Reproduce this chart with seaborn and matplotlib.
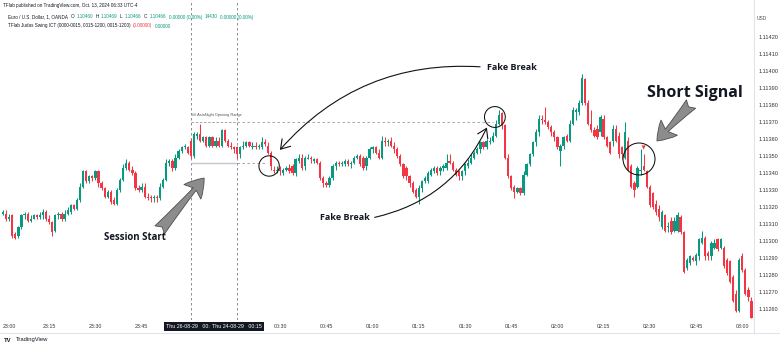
import numpy as np
import pandas as pd
import matplotlib
matplotlib.use("Agg")
import matplotlib.pyplot as plt
import matplotlib.transforms as mtransforms
import seaborn as sns
from matplotlib.patches import FancyArrowPatch
from matplotlib.lines import Line2D

# ---------------- data (prices in pipettes above 1.11000) ----------------
opens = [316,316,313,315,304,303,308,315,316,312,
         313,315,314,315,317,313,311,306,315,316,
         313,316,317,321,319,324,332,341,335,338,
         337,341,334,331,326,329,324,322,330,336,
         343,346,342,340,331,330,332,326,326,325,
         326,325,332,336,346,347,343,349,353,355,
         355,359,350,362,363,359,361,356,361,356,
         359,356,365,359,356,355,355,351,355,356,
         358,355,356,355,355,358,356,352,342,341,
         343,340,342,343,344,340,347,349,344,348,
         349,347,348,346,337,334,333,337,344,346,
         345,345,347,345,346,349,350,349,344,349,
         354,355,352,349,359,358,359,356,354,350,
         345,343,338,334,330,326,331,335,335,339,
         341,343,341,343,343,347,346,342,341,338,
         341,344,346,349,352,354,358,355,358,359,
         362,369,375,368,349,338,332,329,331,328,
         339,345,351,358,364,372,371,370,367,364,
         361,353,356,362,359,369,376,376,381,395,
         381,369,365,366,364,372,361,358,359,366,
         362,355,349,359,344,334,332,341,344,341,
         332,328,322,319,308,315,308,312,306,306,
         314,305,284,287,290,288,291,299,302,293,
         291,296,301,296,296,289,288,279,269,259,
         291,283,271,265]
closes = [317,313,314,303,302,308,315,316,312,313,
          315,314,315,317,313,311,305,315,316,313,
          316,318,321,319,324,332,341,335,338,337,
          341,334,331,326,329,323,322,330,336,343,
          346,342,340,331,330,332,326,325,325,326,
          325,332,336,346,347,343,349,353,355,356,
          352,350,363,363,359,361,356,361,356,359,
          356,365,359,356,355,354,351,355,356,358,
          356,356,355,356,358,357,352,344,341,342,
          341,342,343,341,340,348,349,343,349,349,
          348,348,346,337,334,333,337,344,346,345,
          346,347,345,346,349,350,345,343,349,354,
          355,352,349,359,358,359,356,354,350,345,
          338,338,334,329,326,331,335,337,340,342,
          343,340,343,344,346,346,342,339,338,341,
          345,346,349,352,354,358,355,359,359,362,
          369,374,368,349,338,331,329,331,328,339,
          345,351,358,364,372,371,370,367,364,361,
          355,356,361,359,369,377,377,381,396,381,
          369,365,362,361,373,361,356,352,366,359,
          351,351,364,342,332,330,343,342,342,332,
          321,320,317,314,317,306,309,305,312,315,
          305,282,289,291,289,292,301,302,291,291,
          299,299,295,301,285,281,276,265,259,289,
          283,269,267,255]
highs = [318,318,316,316,305,309,316,317,317,315,
         316,316,317,319,318,315,312,316,317,317,
         318,320,322,322,325,334,342,342,339,339,
         342,342,335,332,330,330,326,331,337,345,
         348,347,344,341,333,334,334,328,327,327,
         327,334,337,348,348,348,351,354,356,357,
         356,360,364,364,369,362,362,362,362,361,
         361,366,366,360,358,356,356,356,359,359,
         359,358,358,357,361,360,358,353,344,344,
         344,343,344,345,345,349,351,351,350,351,
         350,349,349,347,338,335,338,345,347,347,
         347,348,348,347,350,351,351,350,350,355,
         356,356,354,362,361,360,361,358,355,351,
         346,344,339,335,331,333,336,338,341,343,
         344,344,344,345,351,351,347,343,342,342,
         346,348,351,353,355,359,359,360,361,364,
         371,377,376,369,351,339,333,332,332,341,
         346,352,359,366,374,374,379,371,368,365,
         362,357,362,363,371,379,378,383,398,396,
         383,377,367,368,374,374,362,359,368,368,
         364,356,370,361,345,335,344,354,351,342,
         333,329,324,321,318,316,311,314,314,317,
         315,306,290,292,291,293,302,306,303,294,
         300,301,302,302,297,290,289,280,271,290,
         293,284,273,267]
lows = [315,312,312,302,301,302,307,313,311,311,
        313,313,313,313,312,310,303,305,313,312,
        312,315,316,318,318,323,331,334,334,335,
        336,332,330,325,325,322,321,321,329,335,
        342,341,339,330,329,329,325,324,323,323,
        323,324,331,335,344,341,342,348,352,354,
        351,349,349,360,358,358,355,355,355,355,
        355,355,358,355,354,352,349,349,354,355,
        355,354,354,354,354,356,351,342,340,340,
        339,339,341,340,339,338,346,342,342,348,
        346,346,345,336,332,332,332,336,342,344,
        344,344,344,343,345,348,344,342,342,348,
        352,351,348,348,356,356,355,352,349,344,
        337,336,332,328,325,322,329,334,334,338,
        340,339,339,341,342,345,341,338,336,336,
        339,343,345,348,351,352,354,354,357,358,
        361,368,366,348,337,330,325,328,327,327,
        338,344,350,356,362,369,369,366,362,359,
        354,344,354,358,358,368,371,374,380,380,
        368,364,361,360,362,360,355,351,356,358,
        349,348,348,341,331,326,331,339,341,331,
        320,319,315,312,307,305,305,304,305,305,
        304,281,283,286,288,286,289,298,289,289,
        289,295,294,295,284,280,275,264,258,258,
        282,268,265,255]

time_labels = ["23:00", "23:15", "23:30", "23:45", "00:00", "00:15", "00:30",
               "00:45", "01:00", "01:15", "01:30", "01:45", "02:00", "02:15",
               "02:30", "02:45", "03:00"]
price_ticks = [1.11260, 1.11270, 1.11280, 1.11290, 1.11300, 1.11310, 1.11320,
               1.11330, 1.11340, 1.11350, 1.11360, 1.11370, 1.11380, 1.11390,
               1.11400, 1.11410, 1.11420]
session_start, session_end = 61, 76
or_high, or_low = 1.11370, 1.11346
signal_idx, signal_price = 208, 1.11355

BASE = 1.11
df = pd.DataFrame({
    "open": BASE + np.array(opens) * 1e-5,
    "high": BASE + np.array(highs) * 1e-5,
    "low": BASE + np.array(lows) * 1e-5,
    "close": BASE + np.array(closes) * 1e-5,
})
df["idx"] = np.arange(len(df))

GREEN, RED = "#089981", "#F23645"

# ---------------- figure ----------------
sns.set_theme(style="white")
plt.rcParams["font.family"] = ["Liberation Sans", "DejaVu Sans"]

fig = plt.figure(figsize=(7.8, 3.46), dpi=100)
ax = fig.add_axes([0, 26 / 346, 754 / 780, 320 / 346])
ax.set_facecolor("white")
for s in ax.spines.values():
    s.set_visible(False)

up = df["close"] >= df["open"]
cols = np.where(up, GREEN, RED)
ax.vlines(df["idx"], df["low"], df["high"], colors=cols, lw=0.75, zorder=3)
body = (df["close"] - df["open"]).abs().clip(lower=3e-6)
ax.bar(df["idx"], body, bottom=np.minimum(df["open"], df["close"]),
       width=0.74, color=cols, linewidth=0, zorder=4)

ax.set_xlim(-0.974, 243.83)
ax.set_ylim(1.1125353, 1.1144176)

# price axis on the right
ax.yaxis.tick_right()
ax.set_yticks(price_ticks)
ax.set_yticklabels([f"{p:.5f}" for p in price_ticks])
ax.tick_params(axis="y", labelsize=4, length=0, pad=3, colors="#333333")

# time axis
tick_pos = [15 * k for k in range(len(time_labels))]
keep = [k for k, p in enumerate(tick_pos) if p not in (60, 75)]
ax.set_xticks([tick_pos[k] for k in keep])
ax.set_xticklabels([time_labels[k] for k in keep])
ax.tick_params(axis="x", labelsize=3.8, length=0, pad=3, colors="#333333")
first_lbl = ax.get_xticklabels()[0]
first_lbl.set_horizontalalignment("left")
ax.grid(False)

# session lines
for s in (session_start, session_end):
    ax.axvline(s, color="#787b86", lw=0.6, ls=(0, (3, 3)), zorder=2)

# dark date boxes on the time axis
btrans = mtransforms.blended_transform_factory(ax.transData, ax.transAxes)
ax.text(session_start, -0.012, "Thu 26-08-29   00:00", transform=btrans,
        ha="center", va="top", fontsize=3.8, color="white", zorder=10,
        bbox=dict(facecolor="#131722", edgecolor="none", pad=1.6), clip_on=False)
ax.text(session_end, -0.012, "Thu 24-08-29   00:15", transform=btrans,
        ha="center", va="top", fontsize=3.8, color="white", zorder=11,
        bbox=dict(facecolor="#131722", edgecolor="none", pad=1.6), clip_on=False)

# opening range
ax.hlines(or_high, session_start, session_end, color="#9598a1", lw=0.6, ls=(0, (3, 2)), zorder=2)
ax.hlines(or_high, session_end, 159, color="#9598a1", lw=0.6, ls=(0, (3, 3)), zorder=2)
ax.hlines(or_low, session_start, session_end, color="#c3c6ce", lw=1.0, zorder=2)
ax.hlines(or_low, session_end, 85, color="#9598a1", lw=0.6, ls=(0, (3, 3)), zorder=2)
ax.annotate("## AsiaNight Opening Range", (session_start + 0.3, or_high),
            xytext=(0, 3.5), textcoords="offset points", fontsize=2.8,
            color="#555555", ha="left", va="bottom")

# signal marker
sns.scatterplot(x=[signal_idx], y=[signal_price], marker="v", s=9, color=RED,
                edgecolor="none", ax=ax, zorder=6, legend=False)

# circles
circ = pd.DataFrame({"x": [86.4, 159.7, 206.5],
                     "y": [1.1134412, 1.1137294, 1.1134824],
                     "s": [215, 225, 530]})
ax.scatter(circ["x"], circ["y"], s=circ["s"], facecolors="none",
           edgecolors="#111111", linewidths=0.75, zorder=7)

# thin curved arrows
a1 = FancyArrowPatch((155.8, 1.1140235), (89.3, 1.1135235),
                     connectionstyle="arc3,rad=0.25",
                     arrowstyle="->,head_length=0.7,head_width=0.45",
                     mutation_scale=9, lw=0.8, color="#111111", zorder=8)
ax.add_patch(a1)
a2 = FancyArrowPatch((119.8, 1.1131353), (157.5, 1.1136824),
                     connectionstyle="arc3,rad=0.25",
                     arrowstyle="->,head_length=0.7,head_width=0.45",
                     mutation_scale=9, lw=0.8, color="#111111", zorder=8)
ax.add_patch(a2)

FONT_ANN = ["Open Sans", "DejaVu Sans"]
ax.text(157.1, 1.114018, "Fake Break", fontsize=6.5, fontweight="bold",
        ha="left", va="center", color="#131722", family=FONT_ANN)
ax.text(119.2, 1.1131353, "Fake Break", fontsize=6.5, fontweight="bold",
        ha="right", va="center", color="#131722", family=FONT_ANN)
ax.text(42.9, 1.1130235, "Session Start", fontsize=6.9, fontweight="bold",
        ha="center", va="center", color="#131722", family=FONT_ANN)
ax.text(224.7, 1.1138706, "Short Signal", fontsize=11.5, fontweight="bold",
        ha="center", va="center", color="#131722", family=FONT_ANN)

# fat gray arrows
for tail, head in [((50.3, 1.1130529), (65.9, 1.1133824)),
                   ((224.0, 1.1138176), (211.7, 1.1135765))]:
    fa = FancyArrowPatch(tail, head, connectionstyle="arc3,rad=0.0",
                         arrowstyle="fancy,head_length=13,head_width=16,tail_width=9",
                         mutation_scale=1, facecolor="#8c8c8c",
                         edgecolor="#4d4d4d", lw=0.6, zorder=9)
    ax.add_patch(fa)

# ---------------- header / frame ----------------
renderer = fig.canvas.get_renderer()


def seg_text(x_px, y_px, parts, size, weight="normal"):
    x = x_px
    for s, c in parts:
        t = fig.text(x / 780, 1 - y_px / 346, s, color=c, fontsize=size,
                     ha="left", va="center", fontweight=weight)
        bb = t.get_window_extent(renderer=renderer)
        x += bb.width + 2.4


seg_text(3, 5, [("TFlab published on TradingView.com, Oct. 13, 2024 06:33 UTC-4", "#131722")], 3.3)
TEAL = "#089981"
seg_text(8, 17, [("Euro / U.S. Dollar, 1, OANDA", "#131722"),
                 ("O", "#131722"), ("1.10460", TEAL), ("H", "#131722"), ("1.10469", TEAL),
                 ("L", "#131722"), ("1.10466", TEAL), ("C", "#131722"), ("1.10466", TEAL),
                 ("0.00000 (0.00%)", TEAL), ("14430", TEAL), ("0.00000 (0.00%)", TEAL)], 3.3)
seg_text(8, 26, [("TFlab Judas Swing ICT (0000-0015, 0015-1200, 0015-1200)", "#131722"),
                 ("(0.00000)", RED), ("0.00000", TEAL)], 3.3)

fig.text(757 / 780, 1 - 18 / 346, "USD", fontsize=3.5, color="#555555", ha="left", va="center")

fig.add_artist(Line2D([754 / 780, 754 / 780], [1 - 333 / 346, 1], color="#e0e3eb", lw=0.8))
fig.add_artist(Line2D([0, 1], [1 - 333 / 346, 1 - 333 / 346], color="#e0e3eb", lw=0.8))

seg_text(4, 340, [("TV", "#131722")], 4.2, weight="bold")
fig.text(16 / 780, 1 - 340 / 346, "TradingView", fontsize=4.2, color="#131722",
         ha="left", va="center")

fig.savefig("out.png", dpi=100)
